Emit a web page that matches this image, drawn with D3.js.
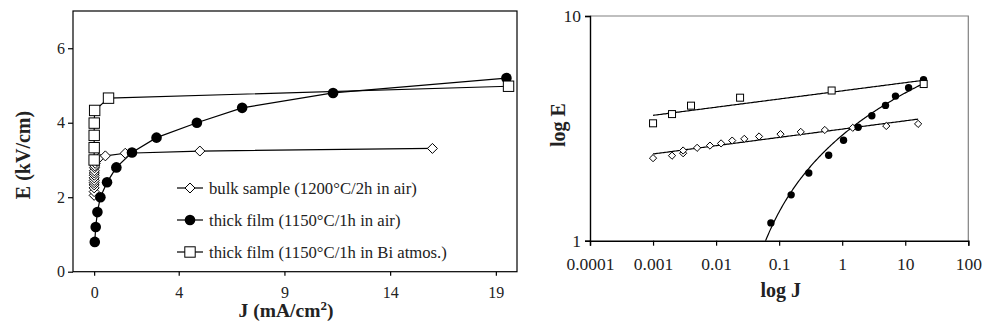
<!DOCTYPE html>
<html><head><meta charset="utf-8">
<script src="https://cdn.jsdelivr.net/npm/d3@7"></script>
<style>
html,body{margin:0;padding:0;background:#fff;}
svg{display:block;font-family:"Liberation Serif","Times New Roman",serif;}
</style></head>
<body><svg id="c" width="999" height="335"></svg>
<script>
// ---- data ----
const seriesNames = ["bulk sample (1200°C/2h in air)", "thick film (1150°C/1h in air)", "thick film (1150°C/1h in Bi atmos.)"];
const bulkJ = [0, 0, 0, 0.001, 0.002, 0.003, 0.003, 0.005, 0.008, 0.012, 0.018, 0.028, 0.048, 0.105, 0.22, 0.53, 1.47, 5.0, 16.0];
const bulkE = [2.05, 2.15, 2.25, 2.33, 2.39, 2.45, 2.52, 2.59, 2.65, 2.71, 2.79, 2.84, 2.91, 2.98, 3.05, 3.11, 3.18, 3.24, 3.31];
const airJ = [0.03, 0.074, 0.155, 0.295, 0.61, 1.05, 1.79, 2.95, 4.86, 7.0, 11.3, 19.5];
const airE = [0.8, 1.2, 1.6, 2.0, 2.4, 2.8, 3.2, 3.6, 4.0, 4.4, 4.8, 5.2];
const biJ = [0, 0.001, 0.002, 0.004, 0.024, 0.68, 19.6];
const biE = [3.0, 3.33, 3.66, 3.99, 4.33, 4.66, 4.98];
const linXTicks = [0, 4, 9, 14, 19];
const linYTicks = [0, 2, 4, 6];
const logXTicks = [0.0001, 0.001, 0.01, 0.1, 1, 10, 100];
const logYTicks = [1, 10];
const logXTickLabels = ["0.0001", "0.001", "0.01", "0.1", "1", "10", "100"];

const svg = d3.select("#c");
const zip = (J, E) => J.map((j, i) => ({ J: j, E: E[i] }));
const bulk = zip(bulkJ, bulkE), air = zip(airJ, airE), bi = zip(biJ, biE);

// marker drawing
function marker(g, type, x, y, s) {
  if (type === "diamond") {
    g.append("path").attr("d", `M${x},${y - s}L${x + s},${y}L${x},${y + s}L${x - s},${y}Z`)
      .attr("fill", "#fff").attr("stroke", "#000").attr("stroke-width", 1);
  } else if (type === "circle") {
    g.append("circle").attr("cx", x).attr("cy", y).attr("r", s).attr("fill", "#000");
  } else {
    g.append("rect").attr("x", x - s).attr("y", y - s).attr("width", 2 * s).attr("height", 2 * s)
      .attr("fill", "#fff").attr("stroke", "#000").attr("stroke-width", 1);
  }
}

// ================= LEFT (linear) =================
const xL = d3.scaleLinear().domain([-1, 20]).range([73, 517]);
const yL = d3.scaleLinear().domain([0, 7]).range([271.7, 11]);
const gL = svg.append("g");

gL.append("rect").attr("x", xL(-1)).attr("y", yL(7)).attr("width", xL(20) - xL(-1)).attr("height", yL(0) - yL(7))
  .attr("fill", "none").attr("stroke", "#000").attr("stroke-width", 1.2);

const axLY = gL.append("g").attr("transform", `translate(${xL(-1)},0)`)
  .call(d3.axisLeft(yL).tickValues(linYTicks).tickSize(5).tickPadding(3).tickFormat(d3.format("d")));
const axLX = gL.append("g").attr("transform", `translate(0,${yL(0)})`)
  .call(d3.axisBottom(xL).tickValues(linXTicks).tickSize(4).tickPadding(11).tickFormat(d3.format("d")));
[axLY, axLX].forEach(a => {
  a.select(".domain").remove();
  a.selectAll("line").attr("stroke", "#000").attr("stroke-width", 1.2);
  a.selectAll("text").attr("font-family", "Liberation Serif").attr("font-size", 16).attr("fill", "#222");
});

const lineL = d3.line().x(d => xL(d.J)).y(d => yL(d.E));
const specs = [
  { data: bulk, type: "diamond" },
  { data: air, type: "circle" },
  { data: bi, type: "square" }
];
const sizeL = { diamond: 5, circle: 5.3, square: 5.2 };
specs.forEach(s => {
  gL.append("path").attr("d", lineL(s.data)).attr("fill", "none").attr("stroke", "#000").attr("stroke-width", 1.2);
});
specs.forEach(s => {
  s.data.forEach(d => marker(gL, s.type, xL(d.J), yL(d.E), sizeL[s.type]));
});

// legend
const legY = [188, 220, 252];
specs.forEach((s, i) => {
  const lg = gL.append("g");
  lg.append("line").attr("x1", 177).attr("x2", 203).attr("y1", legY[i]).attr("y2", legY[i])
    .attr("stroke", "#000").attr("stroke-width", 1.2);
  marker(lg, s.type, 190, legY[i], sizeL[s.type]);
  lg.append("text").attr("x", 209).attr("y", legY[i]).attr("dy", "0.33em")
    .attr("font-size", 16.7).attr("fill", "#222").text(seriesNames[i]);
});

// axis titles
gL.append("text").attr("transform", "translate(30,155) rotate(-90)").attr("text-anchor", "middle")
  .attr("font-size", 20).attr("font-weight", "bold").attr("fill", "#222").text("E (kV/cm)");
const tJ = gL.append("text").attr("x", 286).attr("y", 317).attr("text-anchor", "middle")
  .attr("font-size", 19.5).attr("font-weight", "bold").attr("fill", "#222");
tJ.append("tspan").text("J (mA/cm");
tJ.append("tspan").attr("font-size", 13).attr("dy", -7).text("2");
tJ.append("tspan").attr("dy", 7).text(")");

// ================= RIGHT (log-log) =================
const xR = d3.scaleLog().domain([1e-4, 100]).range([590, 968.3]);
const yR = d3.scaleLog().domain([1, 10]).range([240.7, 16]);
const gR = svg.append("g");

svg.append("defs").append("clipPath").attr("id", "clipR").append("rect")
  .attr("x", xR(1e-4)).attr("y", yR(10)).attr("width", xR(100) - xR(1e-4)).attr("height", yR(1) - yR(10));

// frame: gray top/right
gR.append("path").attr("d", `M${xR(1e-4)},${yR(10)}H${xR(100)}V${yR(1)}`)
  .attr("fill", "none").attr("stroke", "#808080").attr("stroke-width", 1.2);

const axRY = gR.append("g").attr("transform", `translate(${xR(1e-4)},0)`)
  .call(d3.axisLeft(yR).tickValues(logYTicks).tickSize(5).tickPadding(4).tickFormat(d3.format("d")));
const axRX = gR.append("g").attr("transform", `translate(0,${yR(1)})`)
  .call(d3.axisBottom(xR).tickValues(logXTicks).tickSize(5).tickPadding(12).tickFormat((d, i) => logXTickLabels[i]));
[axRY, axRX].forEach(a => {
  a.select(".domain").attr("stroke", "#000").attr("stroke-width", 1.4);
  a.selectAll("line").attr("stroke", "#000").attr("stroke-width", 1.2);
  a.selectAll("text").attr("font-family", "Liberation Serif").attr("font-size", 17.5).attr("fill", "#222");
});

// trend lines (least-squares fits of the data, as the original spreadsheet did)
function powerFit(data) {
  const p = data.filter(d => d.J > 0);
  const xs = p.map(d => Math.log10(d.J)), ys = p.map(d => Math.log10(d.E));
  const mx = d3.mean(xs), my = d3.mean(ys);
  const b = d3.sum(xs, (x, i) => (x - mx) * (ys[i] - my)) / d3.sum(xs, x => (x - mx) ** 2);
  const a = my - b * mx;
  return j => Math.pow(10, a + b * Math.log10(j));
}
function logFit(data) {
  const p = data.filter(d => d.J > 0);
  const xs = p.map(d => Math.log(d.J)), ys = p.map(d => d.E);
  const mx = d3.mean(xs), my = d3.mean(ys);
  const b = d3.sum(xs, (x, i) => (x - mx) * (ys[i] - my)) / d3.sum(xs, x => (x - mx) ** 2);
  const a = my - b * mx;
  return j => a + b * Math.log(j);
}
const fits = [
  { data: bulk, f: powerFit(bulk) },
  { data: air, f: logFit(air) },
  { data: bi, f: powerFit(bi) }
];
const gClip = gR.append("g").attr("clip-path", "url(#clipR)");
const lineR = d3.line().x(d => xR(d[0])).y(d => yR(d[1]));
fits.forEach(ft => {
  const js = ft.data.filter(d => d.J > 0).map(d => d.J);
  const lo = d3.min(js), hi = d3.max(js);
  const pts = d3.range(0, 201).map(i => lo * Math.pow(hi / lo, i / 200))
    .map(j => [j, ft.f(j)]).filter(p => p[1] > 0.5);
  gClip.append("path").attr("d", lineR(pts)).attr("fill", "none").attr("stroke", "#000").attr("stroke-width", 1.2);
});
const sizeR = { diamond: 3.6, circle: 3.7, square: 3.5 };
specs.forEach(s => {
  s.data.filter(d => d.J > 0).forEach(d => marker(gClip, s.type, xR(d.J), yR(d.E), sizeR[s.type]));
});

gR.append("text").attr("x", 780.7).attr("y", 297).attr("text-anchor", "middle")
  .attr("font-size", 20).attr("font-weight", "bold").attr("fill", "#222").text("log J");
gR.append("text").attr("transform", "translate(565,125) rotate(-90)").attr("text-anchor", "middle")
  .attr("font-size", 20).attr("font-weight", "bold").attr("fill", "#222").text("log E");
</script></body></html>
